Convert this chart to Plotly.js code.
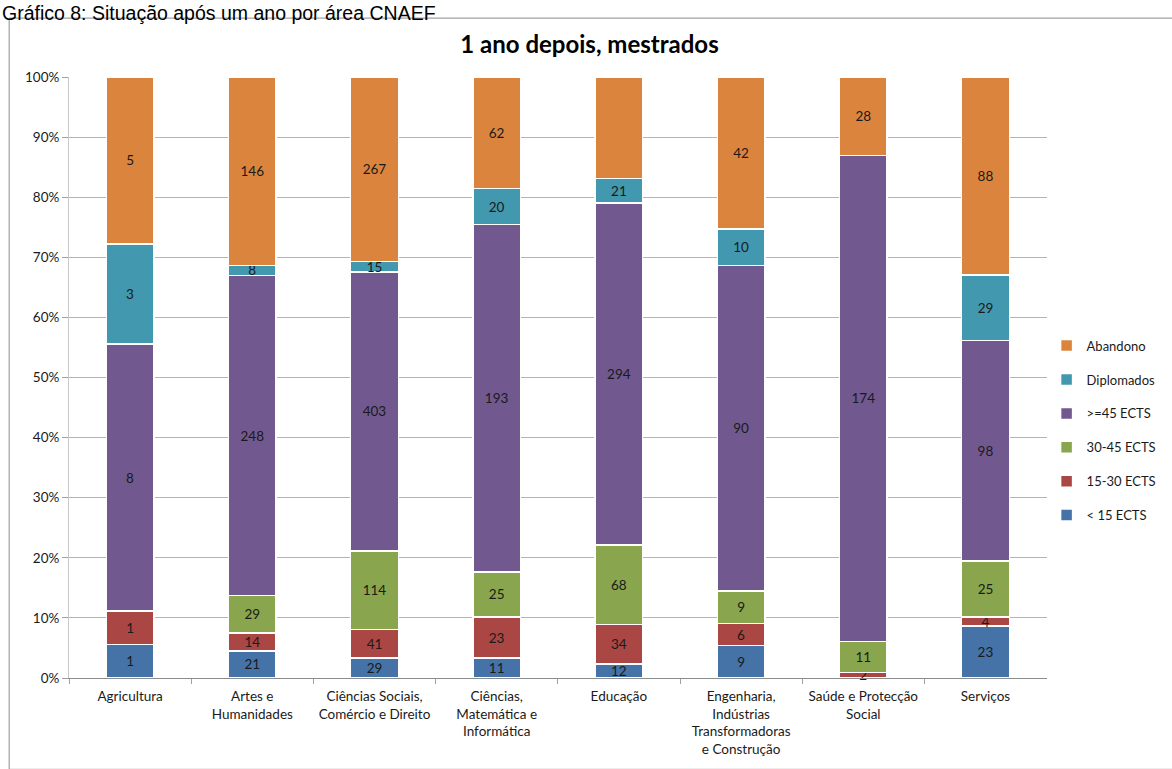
<!DOCTYPE html>
<html>
<head>
<meta charset="utf-8">
<script src="https://cdn.plot.ly/plotly-3.0.1.min.js"></script>
<style>html,body{margin:0;padding:0;background:#fff;}#chart{width:1172px;height:769px;}</style>
</head>
<body>
<div id="chart"></div>
<script>
const categories = ["Agricultura", "Artes e<br>Humanidades", "Ciências Sociais,<br>Comércio e Direito", "Ciências,<br>Matemática e<br>Informática", "Educação", "Engenharia,<br>Indústrias<br>Transformadoras<br>e Construção", "Saúde e Protecção<br>Social", "Serviços"];
const seriesNames = ["< 15 ECTS", "15-30 ECTS", "30-45 ECTS", ">=45 ECTS", "Diplomados", "Abandono"];
const lt15 = [1, 21, 29, 11, 12, 9, 0, 23];
const e15_30 = [1, 14, 41, 23, 34, 6, 2, 4];
const e30_45 = [0, 29, 114, 25, 68, 9, 11, 25];
const ge45 = [8, 248, 403, 193, 294, 90, 174, 98];
const diplomados = [3, 8, 15, 20, 21, 10, 0, 29];
const abandono = [5, 146, 267, 62, 87, 42, 28, 88];
const seriesValues = [lt15, e15_30, e30_45, ge45, diplomados, abandono];
const colors = ["#4572A7", "#AA4643", "#89A54E", "#71588F", "#4198AF", "#DB843D"];
const yTicks = [0, 10, 20, 30, 40, 50, 60, 70, 80, 90, 100];
const yTickLabels = yTicks.map(v => v + "%");

const font = "Lato, 'Noto Sans', sans-serif";
const traces = seriesValues.map((vals, i) => ({
  type: "bar",
  name: seriesNames[i],
  legendgroup: "g" + i,
  legendrank: 100 - i,
  x: categories,
  y: vals,
  text: vals.map(v => v === 0 ? "" : String(v)),
  textposition: "inside",
  insidetextanchor: "middle",
  constraintext: "none",
  cliponaxis: false,
  textangle: 0,
  textfont: {family: font, size: 13.5, color: "#1a1a1a"},
  marker: {color: colors[i], line: {color: "#ffffff", width: 1.5}},
  hoverinfo: "skip"
}));

const layout = {
  width: 1172, height: 769,
  paper_bgcolor: "#ffffff", plot_bgcolor: "#ffffff",
  margin: {l: 69, r: 122, t: 77, b: 91},
  barmode: "stack", barnorm: "percent", bargap: 0.61,
  showlegend: true,
  title: {text: "<b>1 ano depois, mestrados</b>", x: 0.503, xref: "container", xanchor: "center", y: 0.942, yref: "container", yanchor: "middle", font: {family: font, size: 24, color: "#000"}},
  legend: {xref: "container", yref: "container", x: 0.893, xanchor: "left", y: 0.44, yanchor: "middle", traceorder: "grouped", tracegroupgap: 14, font: {family: font, size: 13, color: "#1a1a1a"}, itemwidth: 30, bgcolor: "rgba(0,0,0,0)"},
  xaxis: {
    type: "category", tickson: "boundaries", ticks: "outside", ticklen: 5, tickcolor: "#a0a0a0",
    showline: true, linecolor: "#8c8c8c", linewidth: 1, showgrid: false, ticklabelstandoff: 6,
    tickfont: {family: font, size: 13.5, color: "#1a1a1a"}, automargin: false
  },
  yaxis: {
    range: [0, 100], tickvals: yTicks, ticktext: yTickLabels, ticks: "outside", ticklen: 6, tickcolor: "#a0a0a0",
    showgrid: true, gridcolor: "#b4b4b4", gridwidth: 1, zeroline: false,
    showline: true, linecolor: "#c8c8c8", linewidth: 1,
    tickfont: {family: font, size: 13.5, color: "#1a1a1a"}, automargin: false
  },
  shapes: [
    {type: "rect", xref: "paper", yref: "paper", x0: -0.0612, x1: 1.2, y0: -0.152, y1: 1.098, line: {color: "#8c8c8c", width: 1}, fillcolor: "rgba(0,0,0,0)", layer: "below"}
  ],
  annotations: [
    {text: "Gráfico 8: Situação após um ano por área CNAEF", xref: "paper", yref: "paper", x: -0.0703, xanchor: "left", y: 1.1281, yanchor: "top", showarrow: false, font: {family: "'Liberation Sans', Arial, sans-serif", size: 19.5, color: "#000"}}
  ]
};

Plotly.newPlot("chart", traces, layout, {displayModeBar: false, staticPlot: true});
</script>
</body>
</html>
